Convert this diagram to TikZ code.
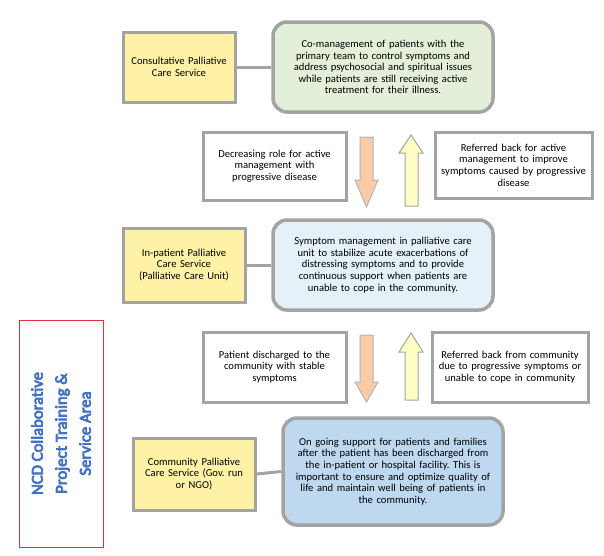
\documentclass[tikz,border=0pt]{standalone}
\usepackage{fontspec}
\setmainfont{Carlito}
\newfontfamily\titlefont{Carlito}[FakeBold=4.5]
\frenchspacing
\definecolor{bordergray}{HTML}{A3A3A3}
\definecolor{yellowfill}{HTML}{FFF2A6}
\definecolor{greenfill}{HTML}{E3EFD9}
\definecolor{lightbluefill}{HTML}{E4F1F8}
\definecolor{bluefill}{HTML}{BED8EF}
\definecolor{downfill}{HTML}{F9CBA6}
\definecolor{upfill}{HTML}{FFFFC4}
\definecolor{titleblue}{HTML}{4472C4}
\definecolor{framered}{HTML}{E3303F}
\begin{document}
\begin{tikzpicture}[x=1pt,y=-1pt,
  base/.style={draw=bordergray, line width=3pt, align=center, inner sep=1pt,
    font=\fontsize{10.6}{11.6}\selectfont\frenchspacing},
  servicebox/.style={base, fill=yellowfill},
  detailbox/.style={base, rounded corners=14pt, line width=3.5pt},
  notebox/.style={base, fill=white},
  link/.style={draw=bordergray, line width=3pt},
  downarrow/.style={draw=bordergray!80, line width=1pt, fill=downfill},
  uparrow/.style={draw=bordergray, line width=1pt, fill=upfill}]
\useasboundingbox (0,0) rectangle (604,555);
% Row 1
\node[servicebox, minimum width=112, minimum height=70, text width=108] (c1) at (179,67) {Consultative Palliative\\Care Service};
\node[detailbox, fill=greenfill, minimum width=220, minimum height=90, text width=212] (g1) at (383,67)
  {Co-management of patients with the\\primary team to control symptoms and\\address psychosocial and spiritual issues\\while patients are still receiving active\\treatment for their illness.};
\draw[link] (c1.east) -- (g1.west);
% Notes 1
\node[notebox, minimum width=143, minimum height=68, text width=138] (l1) at (274.5,166) {Decreasing role for active\\management with\\progressive disease};
\node[notebox, minimum width=157, minimum height=66, text width=152] (r1) at (513.5,165) {Referred back for active\\management to improve\\symptoms caused by progressive\\disease};
\draw[downarrow] (360,137) -- (373,137) -- (373,180) -- (378,180) -- (366.5,207) -- (355,180) -- (360,180) -- cycle;
\draw[uparrow] (405,206) -- (418,206) -- (418,153) -- (423,153) -- (411,135) -- (399,153) -- (405,153) -- cycle;
% Row 2
\node[servicebox, minimum width=122, minimum height=74, text width=118] (y2) at (184,265) {In-patient Palliative\\Care Service\\(Palliative Care Unit)};
\node[detailbox, fill=lightbluefill, minimum width=220, minimum height=90, text width=212] (b2) at (383,265)
  {Symptom management in palliative care\\unit to stabilize acute exacerbations of\\distressing symptoms and to provide\\continuous support when patients are\\unable to cope in the community.};
\draw[link] (y2.east) -- (b2.west);
% Notes 2
\node[notebox, minimum width=143, minimum height=70, text width=138] (l2) at (274.5,367) {Patient discharged to the\\community with stable\\symptoms};
\node[notebox, minimum width=156, minimum height=70, text width=152] (r2) at (510,367) {Referred back from community\\due to progressive symptoms or\\unable to cope in community};
\draw[downarrow] (360,335) -- (373,335) -- (373,382) -- (378,382) -- (366.5,402) -- (355,382) -- (360,382) -- cycle;
\draw[uparrow] (405,400) -- (418,400) -- (418,352) -- (423,352) -- (411,333) -- (399,352) -- (405,352) -- cycle;
% Row 3
\node[servicebox, minimum width=122, minimum height=72, text width=118] (y3) at (194,474) {Community Palliative\\Care Service (Gov. run\\or NGO)};
\node[detailbox, fill=bluefill, minimum width=220, minimum height=107, text width=214] (b3) at (393,471.5)
  {On going support for patients and families\\after the patient has been discharged from\\the in-patient or hospital facility. This is\\important to ensure and optimize quality of\\life and maintain well being of patients in\\the community.};
\draw[link] (y3.east) -- (b3.west);
% Side title
\node[draw=framered, line width=1pt, minimum width=84, minimum height=227] (frame) at (61,433.5) {};
\node[rotate=90, text=titleblue, align=center, font=\fontsize{16.7}{24}\selectfont\titlefont] (title) at (frame.center) {NCD Collaborative\\Project Training \&\\Service Area};
\end{tikzpicture}
\end{document}
